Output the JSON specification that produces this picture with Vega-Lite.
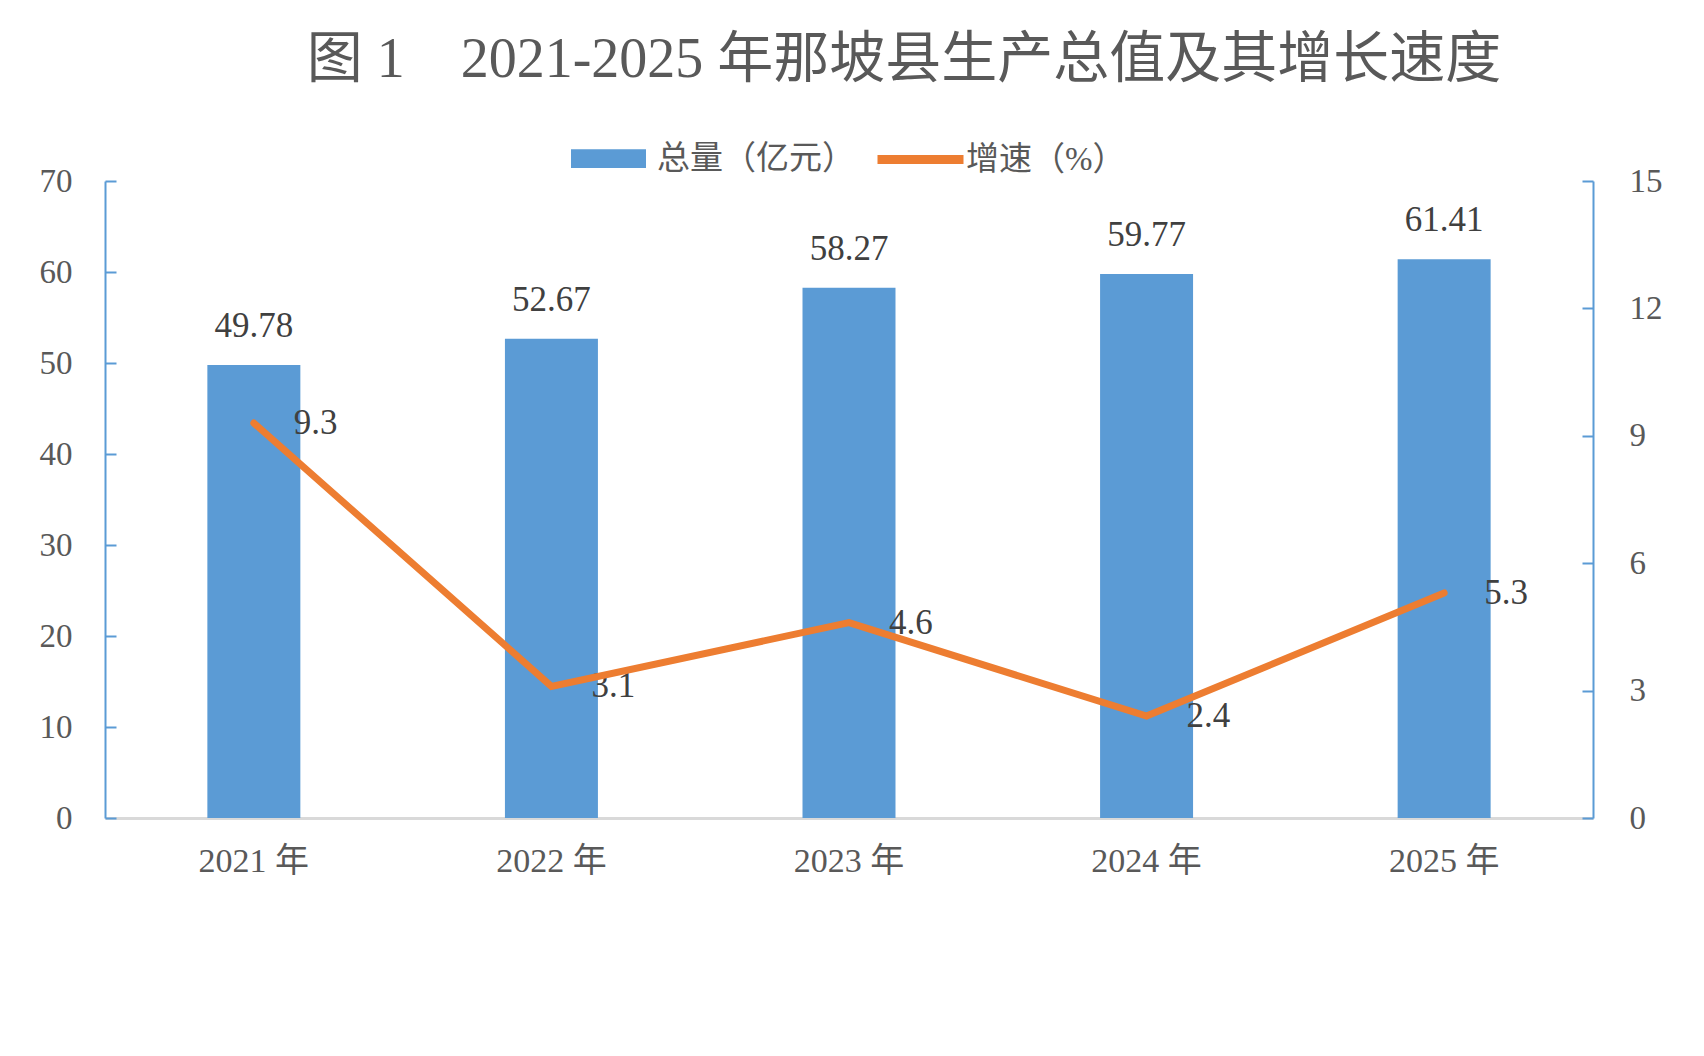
{
  "$schema": "https://vega.github.io/schema/vega-lite/v6.json",
  "autosize": {"type": "none"},
  "width": 1488,
  "height": 637,
  "padding": {"left": 105, "top": 181, "right": 111, "bottom": 238},
  "background": "white",
  "title": {
    "text": "图 1\u30002021-2025 年那坡县生产总值及其增长速度",
    "font": "Liberation Serif, Noto Sans CJK SC",
    "fontSize": 56,
    "fontWeight": "normal",
    "color": "#595959",
    "anchor": "middle",
    "dx": 55,
    "offset": 23
  },
  "data": {
    "values": [
      {"year": "2021 年", "total": 49.78, "growth": 9.3},
      {"year": "2022 年", "total": 52.67, "growth": 3.1},
      {"year": "2023 年", "total": 58.27, "growth": 4.6},
      {"year": "2024 年", "total": 59.77, "growth": 2.4},
      {"year": "2025 年", "total": 61.41, "growth": 5.3}
    ]
  },
  "encoding": {
    "x": {
      "field": "year",
      "type": "nominal",
      "sort": null,
      "title": null,
      "scale": {"paddingInner": 0.6875, "paddingOuter": 0.344},
      "axis": {
        "labelAngle": 0,
        "ticks": false,
        "domainColor": "#D9D9D9",
        "domainWidth": 3,
        "labelPadding": 26,
        "labelFontSize": 34,
        "labelColor": "#595959",
        "labelFont": "Liberation Serif, Noto Sans CJK SC"
      }
    }
  },
  "layer": [
    {
      "encoding": {
        "y": {
          "field": "total",
          "type": "quantitative",
          "title": null,
          "scale": {"domain": [0, 70], "nice": false},
          "axis": {
            "orient": "left",
            "values": [0, 10, 20, 30, 40, 50, 60, 70],
            "grid": false,
            "domainColor": "#5B9BD5",
            "domainWidth": 2,
            "tickColor": "#5B9BD5",
            "tickWidth": 2,
            "tickSize": -11,
            "labelPadding": 44,
            "labelFontSize": 33,
            "labelColor": "#595959",
            "labelFont": "Liberation Serif"
          }
        }
      },
      "layer": [
        {
          "mark": {"type": "bar"},
          "encoding": {
            "color": {
              "datum": "总量（亿元）",
              "scale": {"range": ["#5B9BD5"]},
              "legend": {
                "title": null,
                "orient": "none",
                "legendX": 466,
                "legendY": -60,
                "padding": 0,
                "symbolType": "M-1,-0.25H1V0.25H-1Z",
                "symbolSize": 5625,
                "symbolStrokeWidth": 0,
                "labelOffset": 11,
                "labelFontSize": 33,
                "labelLimit": 400,
                "labelColor": "#595959",
                "labelFont": "Liberation Serif, Noto Sans CJK SC"
              }
            }
          }
        },
        {
          "mark": {
            "type": "text",
            "baseline": "alphabetic",
            "dy": -28,
            "fontSize": 35,
            "font": "Liberation Serif",
            "color": "#404040"
          },
          "encoding": {
            "text": {"field": "total", "type": "quantitative", "format": ".2f"}
          }
        }
      ]
    },
    {
      "encoding": {
        "y": {
          "field": "growth",
          "type": "quantitative",
          "title": null,
          "scale": {"domain": [0, 15], "nice": false},
          "axis": {
            "orient": "right",
            "values": [0, 3, 6, 9, 12, 15],
            "grid": false,
            "domainColor": "#5B9BD5",
            "domainWidth": 2,
            "tickColor": "#5B9BD5",
            "tickWidth": 2,
            "tickSize": -11,
            "labelPadding": 47,
            "labelFontSize": 33,
            "labelColor": "#595959",
            "labelFont": "Liberation Serif"
          }
        }
      },
      "layer": [
        {
          "mark": {
            "type": "text",
            "align": "left",
            "baseline": "middle",
            "dx": 40,
            "fontSize": 35,
            "font": "Liberation Serif",
            "color": "#404040"
          },
          "encoding": {
            "text": {"field": "growth", "type": "quantitative", "format": ".1f"}
          }
        },
        {
          "mark": {"type": "line", "strokeWidth": 7, "strokeCap": "round", "strokeJoin": "miter"},
          "encoding": {
            "stroke": {
              "datum": "增速（%）",
              "scale": {"range": ["#ED7D31"]},
              "legend": {
                "title": null,
                "orient": "none",
                "legendX": 768,
                "legendY": -69,
                "padding": 0,
                "symbolType": "stroke",
                "symbolSize": 7396,
                "symbolStrokeWidth": 9,
                "labelOffset": -2,
                "labelFontSize": 33,
                "labelLimit": 400,
                "labelColor": "#595959",
                "labelFont": "Liberation Serif, Noto Sans CJK SC"
              }
            }
          }
        }
      ]
    }
  ],
  "resolve": {"scale": {"y": "independent"}},
  "config": {"view": {"stroke": null}}
}
